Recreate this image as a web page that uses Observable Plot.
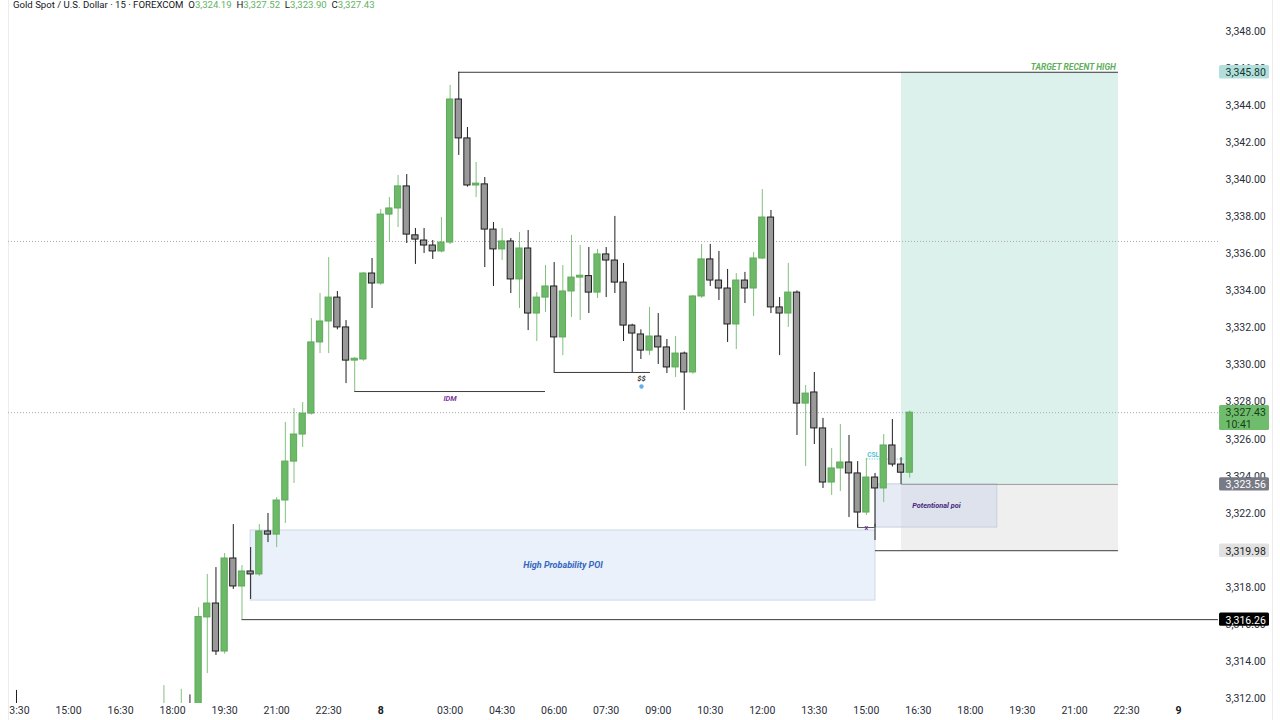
<!DOCTYPE html>
<html>
<head>
<meta charset="utf-8">
<script src="https://cdn.jsdelivr.net/npm/d3@7"></script>
<script src="https://cdn.jsdelivr.net/npm/@observablehq/plot@0.6"></script>
<style>
  html, body { margin: 0; padding: 0; background: #fff; width: 1280px; height: 720px; overflow: hidden; }
  #chart { position: absolute; left: 8px; top: 0; }
  #header { position: absolute; left: 13px; top: -1px; font: 9.6px Roboto, sans-serif; line-height: 11px; color: #131722; white-space: pre; z-index: 5; }
  #header .v { color: #5fb35f; }
  .edge { position: absolute; top: 0; width: 1px; height: 720px; background: #ececec; }
</style>
</head>
<body>
<div class="edge" style="left:8px"></div>
<div class="edge" style="left:1272px"></div>
<div id="chart"></div>
<div id="header"></div>
<script>
// ---- header ----
const symbolTitle = "Gold Spot / U.S. Dollar · 15 · FOREXCOM";
const ohlcLetters = ["O", "H", "L", "C"];
const ohlcValues = ["3,324.19", "3,327.52", "3,323.90", "3,327.43"];

// ---- candles (bar index: 15-minute slots, gaps removed) ----
const bars   = [0,17,19,20,21,22,23,24,25,26,27,28,29,30,31,32,33,34,35,36,37,38,39,40,41,42,43,44,45,46,47,48,49,50,51,52,53,54,55,56,57,58,59,60,61,62,63,64,65,66,67,68,69,70,71,72,73,74,75,76,77,78,79,80,81,82,83,84,85,86,87,88,89,90,91,92,93,94,95,96,97,98,99,100,101,102,103];
const opens  = [3311.0,3310.6,3310.5,3311.5,3310.8,3316.38,3317.13,3314.54,3319.56,3318.05,3318.86,3318.70,3321.02,3320.85,3322.69,3324.79,3326.25,3327.38,3331.22,3332.35,3333.64,3332.03,3330.24,3330.30,3334.94,3334.40,3338.12,3338.45,3339.64,3337.00,3336.72,3336.45,3336.13,3336.61,3344.33,3342.23,3339.69,3339.75,3337.31,3336.24,3336.67,3334.62,3336.29,3332.78,3333.64,3334.24,3331.49,3333.97,3334.72,3334.80,3333.91,3335.97,3335.64,3334.45,3332.13,3331.65,3330.78,3331.54,3330.95,3329.87,3330.62,3329.60,3333.70,3335.70,3334.56,3334.13,3332.19,3334.56,3334.13,3335.75,3337.96,3333.11,3332.78,3333.91,3327.92,3328.52,3326.58,3323.66,3324.42,3324.74,3324.15,3322.04,3323.93,3323.34,3325.66,3324.63,3324.19];
const highs  = [3312.44,3312.7,3312.5,3312.2,3316.9,3318.70,3319.07,3319.83,3321.39,3319.18,3320.15,3321.39,3321.99,3322.85,3326.90,3327.65,3327.98,3332.51,3333.86,3335.80,3333.97,3332.40,3330.40,3335.00,3335.75,3338.39,3339.04,3340.23,3340.28,3337.37,3337.37,3336.72,3337.96,3345.09,3345.80,3342.82,3340.93,3340.12,3337.69,3337.37,3336.83,3337.15,3337.26,3333.91,3335.37,3335.53,3335.37,3336.99,3336.45,3336.34,3336.24,3336.34,3338.02,3335.48,3332.20,3331.90,3333.11,3332.78,3331.38,3331.54,3330.70,3333.75,3336.51,3336.51,3336.13,3335.16,3334.94,3335.00,3336.07,3339.47,3338.34,3333.64,3335.48,3334.00,3328.90,3329.60,3327.12,3325.50,3326.79,3326.20,3324.79,3324.96,3324.15,3326.25,3327.06,3325.00,3327.52];
const lows   = [3309.8,3310.2,3310.0,3310.3,3310.4,3313.35,3314.33,3314.40,3317.89,3316.26,3317.35,3318.60,3320.42,3320.15,3321.45,3323.61,3325.55,3327.30,3330.62,3330.62,3331.90,3329.00,3328.57,3330.20,3333.05,3334.30,3336.61,3337.42,3336.56,3335.43,3336.02,3335.70,3336.05,3336.50,3341.31,3339.60,3339.04,3335.26,3334.24,3335.64,3333.86,3333.05,3331.86,3331.27,3332.84,3329.60,3330.51,3332.57,3332.40,3332.78,3333.59,3333.64,3333.86,3331.27,3329.60,3330.30,3330.51,3330.03,3329.54,3329.33,3327.55,3329.50,3333.60,3334.24,3333.48,3331.22,3330.84,3333.32,3332.62,3335.70,3332.78,3330.51,3332.03,3326.20,3324.52,3325.71,3323.34,3322.96,3323.18,3321.77,3321.23,3321.88,3320.53,3322.58,3324.50,3323.56,3323.90];
const closes = [3310.2,3311.4,3311.5,3310.8,3316.4,3317.13,3314.54,3319.56,3318.05,3318.86,3318.70,3321.02,3320.85,3322.69,3324.79,3326.25,3327.38,3331.22,3332.35,3333.64,3332.03,3330.24,3330.30,3334.94,3334.40,3338.12,3338.45,3339.64,3337.04,3336.77,3336.45,3336.13,3336.61,3344.33,3342.23,3339.69,3339.75,3337.31,3336.24,3336.67,3334.62,3336.29,3332.78,3333.64,3334.24,3331.49,3333.97,3334.72,3334.80,3333.91,3335.97,3335.64,3334.45,3332.13,3331.70,3330.78,3331.54,3330.95,3329.87,3330.62,3329.60,3333.70,3335.70,3334.56,3334.13,3332.19,3334.56,3334.13,3335.75,3337.96,3333.11,3332.78,3333.91,3327.92,3328.46,3326.58,3323.66,3324.42,3324.74,3324.15,3322.04,3323.93,3323.34,3325.66,3324.63,3324.19,3327.43];

// ---- time axis ----
const timeTickBars   = [0,6,12,18,24,30,36,42,50,56,62,68,74,80,86,92,98,104,110,116,122,128,134];
const timeTickLabels = ["13:30","15:00","16:30","18:00","19:30","21:00","22:30","8","03:00","04:30","06:00","07:30","09:00","10:30","12:00","13:30","15:00","16:30","18:00","19:30","21:00","22:30","9"];
const dayLabels = ["8", "9"];

// ---- price axis ----
const priceTicks = [3312,3314,3316,3318,3320,3322,3324,3326,3328,3330,3332,3334,3336,3338,3340,3342,3344,3346,3348];

// ---- zones ----
const zoneNames  = ["High Probability POI", "target", "stop", "Potentional poi"];
const zoneStart  = [27, 102.05, 102.05, 99.05];
const zoneEnd    = [99.05, 127.07, 127.07, 113.1];
const zoneTop    = [3321.07, 3345.80, 3323.56, 3323.56];
const zoneBottom = [3317.29, 3323.56, 3319.98, 3321.23];

// ---- level lines ----
const levelNames = ["recentHigh", "low", "stop", "entry", "IDM", "$$", "sweep"];
const levelPrice = [3345.80, 3316.26, 3319.98, 3323.56, 3328.57, 3329.60, 3321.23];
const levelStart = [51, 26, 99.05, 102.05, 39, 62, 97];
const levelEnd   = [127.07, 138.6, 127.07, 127.07, 61, 73.1, 99];

const dottedLevels = [3336.67, 3327.43];

// ---- price tags on scale ----
const tagPrices = [3345.80, 3327.43, 3323.56, 3319.98, 3316.26];
const tagTexts  = ["3,345.80", "3,327.43\n10:41", "3,323.56", "3,319.98", "3,316.26"];
const tagTop    = [3346.16, 3327.82, 3323.92, 3320.34, 3316.62];
const tagBottom = [3345.44, 3326.47, 3323.20, 3319.62, 3315.90];

// ---------------------------------------------------------------
const header = document.getElementById("header");
header.innerHTML = symbolTitle + "  " + ohlcLetters.map((l, k) => l + '<span class="v">' + ohlcValues[k] + "</span>").join("  ");

const candles = bars.map((b, k) => ({i: b, o: opens[k], h: highs[k], l: lows[k], c: closes[k], up: closes[k] >= opens[k]}));
const zones = zoneNames.map((n, k) => ({n, x1: zoneStart[k], x2: zoneEnd[k], y1: zoneBottom[k], y2: zoneTop[k]}));
const levels = levelNames.map((n, k) => ({n, p: levelPrice[k], x1: levelStart[k], x2: levelEnd[k]}));
const tags = tagPrices.map((p, k) => ({p, t: tagTexts[k], top: tagTop[k], bottom: tagBottom[k], k}));

const xDomain = [-0.9225, 138.607];
const yDomain = [3311.735, 3349.673];
const tagX1 = xDomain[1] + 0.12, tagX2 = xDomain[1] + 5.88;

const GREEN = "#6cb968", GREEN_STROKE = "#5ea95a", GREEN_WICK = "#80c17c";
const GRAY = "#999999", DARK = "#1e1e1e";
const zoneFill = {"High Probability POI": "#eaf1fb", "target": "#dcf1ec", "stop": "#efefef", "Potentional poi": "rgba(200,210,236,0.45)"};
const zoneStroke = {"High Probability POI": "#cdd8e8", "target": "none", "stop": "none", "Potentional poi": "#c6d0e0"};
const levelStroke = {recentHigh: "#3a3a3a", low: "#3a3a3a", stop: "#3a3a3a", entry: "#9a9a9a", IDM: "#3a3a3a", "$$": "#3a3a3a", sweep: "#555"};
const tagBg = ["#b2dfdb", "#6fbd6c", "#787b86", "#e1e1e1", "#000000"];
const tagFg = ["#17352f", "#173d17", "#ffffff", "#222222", "#ffffff"];

const FONT = "Roboto, sans-serif";
const isDay = (i) => dayLabels.includes(timeTickLabels[timeTickBars.indexOf(i)]);

const plot = Plot.plot({
  width: 1272,
  height: 720,
  marginLeft: 0,
  marginRight: 62,
  marginTop: 0,
  marginBottom: 17,
  style: {fontFamily: FONT, fontSize: "10.5px", color: "#131722", background: "transparent", overflow: "hidden"},
  x: {domain: xDomain, axis: null},
  y: {domain: yDomain, axis: null},
  marks: [
    // zones
    Plot.rect(zones, {x1: "x1", x2: "x2", y1: "y1", y2: "y2", fill: d => zoneFill[d.n], stroke: d => zoneStroke[d.n], strokeWidth: 1}),
    // dotted levels
    Plot.ruleY(dottedLevels, {y: d => d, x1: xDomain[0], x2: xDomain[1], stroke: "#a9a9a9", strokeDasharray: "1,2", strokeWidth: 1}),
    // annotation lines
    Plot.ruleY(levels, {y: "p", x1: "x1", x2: "x2", stroke: d => levelStroke[d.n], strokeWidth: 1}),
    Plot.ruleX(levels.filter(d => d.n === "sweep"), {x: "x1", y1: d => d.p, y2: d => d.p + 0.18, stroke: "#555"}),
    Plot.ruleX(levels.filter(d => d.n === "sweep"), {x: "x2", y1: d => d.p, y2: d => d.p + 0.18, stroke: "#555"}),
    // CSL dotted
    Plot.ruleY([3324.93], {y: d => d, x1: 98.1, x2: 102.3, stroke: "#4fc3d6", strokeDasharray: "1,1.5"}),
    // annotation texts
    Plot.text(zones.filter(d => d.n === "High Probability POI"), {x: d => (d.x1 + d.x2) / 2, y: d => (d.y1 + d.y2) / 2, text: "n", fill: "#3567c0", fontSize: 9, fontWeight: "bold", fontStyle: "italic"}),
    Plot.text(zones.filter(d => d.n === "Potentional poi"), {x: d => (d.x1 + d.x2) / 2, y: d => (d.y1 + d.y2) / 2, text: "n", fill: "#45287a", fontSize: 7.3, fontWeight: "bold", fontStyle: "italic"}),
    Plot.text(levels.filter(d => d.n === "IDM"), {x: d => (d.x1 + d.x2) / 2, y: "p", text: "n", dy: 7, fill: "#7b3aa0", fontSize: 7.5, fontWeight: "bold", fontStyle: "italic"}),
    Plot.text(levels.filter(d => d.n === "$$"), {x: 72.07, y: "p", text: "n", dy: 6, fill: "#2a2a2a", fontSize: 7.5, fontWeight: "bold", fontStyle: "italic"}),
    Plot.dot(levels.filter(d => d.n === "$$"), {x: 72.07, y: "p", dy: 14, r: 2.2, fill: "#62aee8", stroke: "none"}),
    Plot.text(levels.filter(d => d.n === "recentHigh"), {x: d => d.x2 - 0.3, y: "p", text: () => "TARGET RECENT HIGH", dy: -5.5, textAnchor: "end", fill: "#5fae5c", fontSize: 8.5, fontWeight: "bold", fontStyle: "italic"}),
    Plot.text(levels.filter(d => d.n === "sweep"), {x: d => (d.x1 + d.x2) / 2, y: "p", text: () => "x", fill: "#6a3a9a", fontSize: 7, fontWeight: "bold", dy: 0.5}),
    Plot.text(["CSL"], {x: 98.1, y: 3324.93, text: d => d, textAnchor: "start", dy: -4, fill: "#4fc3d6", fontSize: 6.5, fontWeight: "bold"}),
    // candles
    Plot.ruleX(candles, {x: "i", y1: "l", y2: "h", stroke: d => d.up ? GREEN_WICK : DARK, strokeWidth: 1, clip: true}),
    Plot.rect(candles, {
      x1: d => d.i - 0.36, x2: d => d.i + 0.36,
      y1: d => Math.min(d.o, d.c),
      y2: d => Math.max(d.o, d.c, Math.min(d.o, d.c) + 0.1),
      fill: d => d.up ? GREEN : GRAY,
      stroke: d => d.up ? GREEN_STROKE : DARK,
      strokeWidth: 1, clip: true
    }),
    // axes
    Plot.axisY({anchor: "right", ticks: priceTicks, tickFormat: d3.format(",.2f"), tickSize: 0, tickPadding: 7, fontSize: 10.5, fill: "#2a2e39"}),
    Plot.axisX({anchor: "bottom", ticks: timeTickBars.filter(i => !isDay(i)), tickFormat: i => timeTickLabels[timeTickBars.indexOf(i)], tickSize: 0, tickPadding: 3, fontSize: 10.5, fill: "#2a2e39"}),
    Plot.axisX({anchor: "bottom", ticks: timeTickBars.filter(i => isDay(i)), tickFormat: i => timeTickLabels[timeTickBars.indexOf(i)], tickSize: 0, tickPadding: 3, fontSize: 10.5, fontWeight: "bold", fill: "#131722"}),
    // price tags
    Plot.rect(tags, {x1: tagX1, x2: tagX2, y1: "bottom", y2: "top", fill: d => tagBg[d.k], rx: 1.5}),
    Plot.text(tags, {x: tagX1, y: d => (d.top + d.bottom) / 2, text: "t", dx: 6, textAnchor: "start", fill: d => tagFg[d.k], fontSize: 10.5, lineHeight: 1.2})
  ]
});
document.getElementById("chart").appendChild(plot);
</script>
</body>
</html>
